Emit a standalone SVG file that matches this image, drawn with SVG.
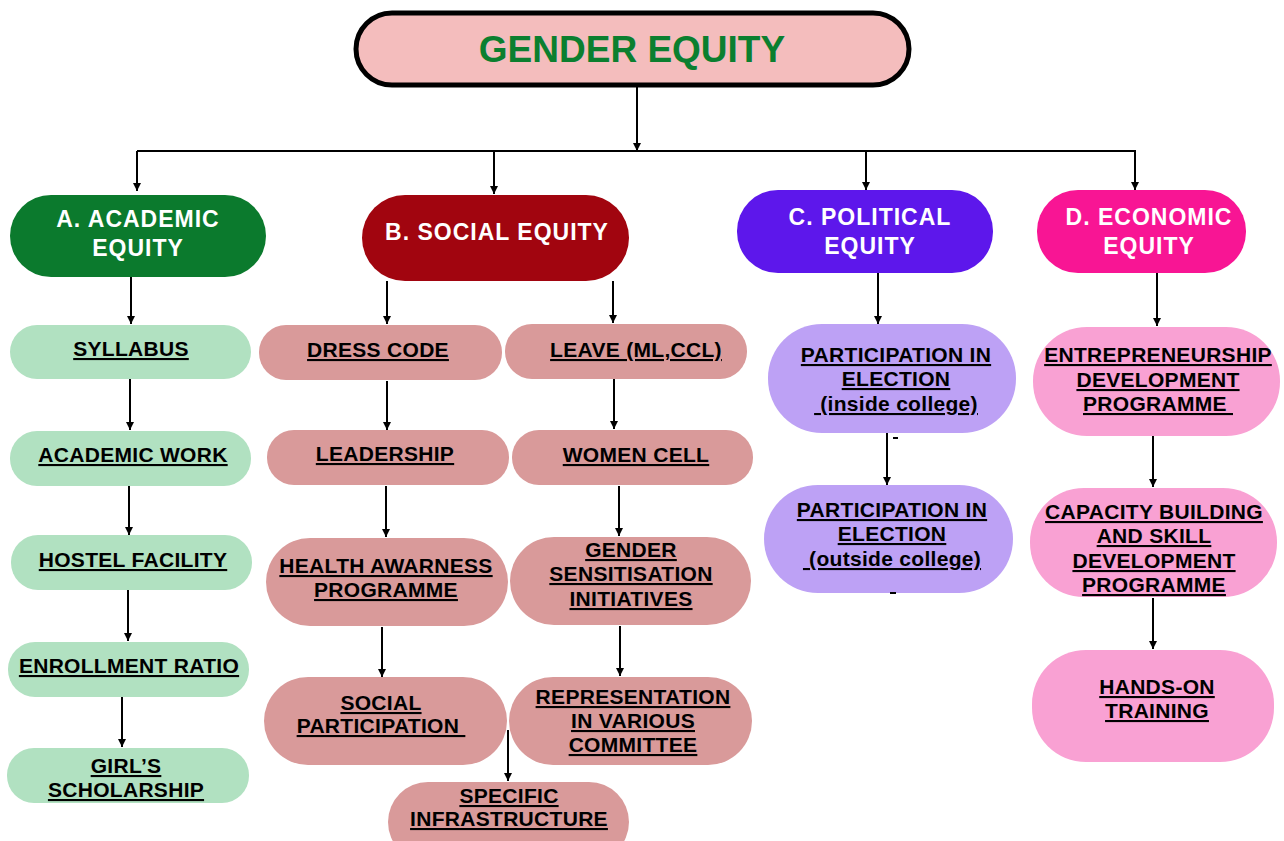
<svg xmlns="http://www.w3.org/2000/svg" width="1284" height="841" viewBox="0 0 1284 841">
<defs>
<marker id="ah" viewBox="0 0 10 10" refX="10" refY="5" markerWidth="8" markerHeight="8" markerUnits="userSpaceOnUse" orient="auto">
<path d="M0,0 L10,5 L0,10 Z" fill="#000"/>
</marker>
</defs>
<style>
.hd{font-family:"Liberation Sans",Arial,sans-serif;font-weight:bold;font-size:23px;fill:#fff;text-anchor:middle;letter-spacing:1px}
.ch{font-family:"Liberation Sans",Arial,sans-serif;font-weight:bold;font-size:21px;fill:#000;text-anchor:middle;text-decoration:underline;letter-spacing:0.3px}
.ac{fill:#B1E1C1}
.so{fill:#D99A9A}
.po{fill:#BDA1F5}
.ec{fill:#F9A1D3}
.cn line{stroke:#000;stroke-width:2}
</style>
<rect width="1284" height="841" fill="#fff"/>

<g id="connectors" class="cn">
<line x1="637" y1="86" x2="637" y2="151" marker-end="url(#ah)"/>
<line x1="137" y1="151" x2="1136" y2="151"/>
<line x1="137" y1="151" x2="137" y2="191" marker-end="url(#ah)"/>
<line x1="494" y1="151" x2="494" y2="194" marker-end="url(#ah)"/>
<line x1="866" y1="151" x2="866" y2="190" marker-end="url(#ah)"/>
<line x1="1135" y1="151" x2="1135" y2="190" marker-end="url(#ah)"/>
<line x1="131" y1="277" x2="131" y2="324" marker-end="url(#ah)"/>
<line x1="130" y1="379" x2="130" y2="430" marker-end="url(#ah)"/>
<line x1="129" y1="486" x2="129" y2="535" marker-end="url(#ah)"/>
<line x1="128" y1="590" x2="128" y2="641" marker-end="url(#ah)"/>
<line x1="122" y1="697" x2="122" y2="747" marker-end="url(#ah)"/>
<line x1="387" y1="281" x2="387" y2="324" marker-end="url(#ah)"/>
<line x1="613" y1="281" x2="613" y2="323" marker-end="url(#ah)"/>
<line x1="387" y1="381" x2="387" y2="430" marker-end="url(#ah)"/>
<line x1="386" y1="486" x2="386" y2="537" marker-end="url(#ah)"/>
<line x1="382" y1="627" x2="382" y2="677" marker-end="url(#ah)"/>
<line x1="614" y1="379" x2="614" y2="429" marker-end="url(#ah)"/>
<line x1="619" y1="486" x2="619" y2="536" marker-end="url(#ah)"/>
<line x1="620" y1="626" x2="620" y2="676" marker-end="url(#ah)"/>
<line x1="508" y1="730" x2="508" y2="781" marker-end="url(#ah)"/>
<line x1="878" y1="273" x2="878" y2="324" marker-end="url(#ah)"/>
<line x1="887" y1="433" x2="887" y2="485" marker-end="url(#ah)"/>
<line x1="1157" y1="273" x2="1157" y2="326" marker-end="url(#ah)"/>
<line x1="1153" y1="436" x2="1153" y2="487" marker-end="url(#ah)"/>
<line x1="1153" y1="598" x2="1153" y2="649" marker-end="url(#ah)"/>
</g>

<g id="title">
<rect x="356" y="13" width="553" height="72" rx="36" fill="#F4BDBD" stroke="#000" stroke-width="5"/>
<text x="632" y="62" font-family="Liberation Sans,Arial,sans-serif" font-weight="bold" font-size="37" fill="#0B7F2F" text-anchor="middle">GENDER EQUITY</text>
</g>

<g id="academic">
<rect x="10" y="195" width="256" height="82" rx="41" fill="#0B7A2D"/>
<text class="hd" x="138" y="227">A. ACADEMIC</text>
<text class="hd" x="138" y="256">EQUITY</text>
</g>
<g id="social">
<rect x="362" y="195" width="267" height="86" rx="43" fill="#A1050F"/>
<text class="hd" x="497" y="240">B. SOCIAL EQUITY</text>
</g>
<g id="political">
<rect x="737" y="190" width="256" height="83" rx="41" fill="#5D17EB"/>
<text class="hd" x="870" y="225">C. POLITICAL</text>
<text class="hd" x="870" y="254">EQUITY</text>
</g>
<g id="economic">
<rect x="1037" y="190" width="209" height="83" rx="41" fill="#F81594"/>
<text class="hd" x="1149" y="225">D. ECONOMIC</text>
<text class="hd" x="1149" y="254">EQUITY</text>
</g>

<g id="syllabus">
<rect class="ac" x="10" y="325" width="241" height="54" rx="27"/>
<text class="ch" x="131" y="356">SYLLABUS</text>
</g>
<g id="academic-work">
<rect class="ac" x="10" y="431" width="241" height="55" rx="27"/>
<text class="ch" x="133" y="462">ACADEMIC WORK</text>
</g>
<g id="hostel">
<rect class="ac" x="11" y="535" width="241" height="55" rx="27"/>
<text class="ch" x="133" y="567">HOSTEL FACILITY</text>
</g>
<g id="enrollment">
<rect class="ac" x="8" y="642" width="241" height="55" rx="27"/>
<text class="ch" x="129" y="673">ENROLLMENT RATIO</text>
</g>
<g id="scholarship">
<rect class="ac" x="7" y="748" width="242" height="55" rx="27"/>
<text class="ch" x="126" y="773">GIRL’S</text>
<text class="ch" x="126" y="797">SCHOLARSHIP</text>
</g>

<g id="dress-code">
<rect class="so" x="259" y="325" width="243" height="55" rx="27"/>
<text class="ch" x="378" y="357">DRESS CODE</text>
</g>
<g id="leadership">
<rect class="so" x="267" y="430" width="242" height="55" rx="27"/>
<text class="ch" x="385" y="461">LEADERSHIP</text>
</g>
<g id="health">
<rect class="so" x="266" y="538" width="242" height="88" rx="44"/>
<text class="ch" x="386" y="573">HEALTH AWARNESS</text>
<text class="ch" x="386" y="597">PROGRAMME</text>
</g>
<g id="social-participation">
<rect class="so" x="264" y="677" width="243" height="88" rx="44"/>
<text class="ch" x="381" y="710">SOCIAL</text>
<text class="ch" x="381" y="733">PARTICIPATION&#160;</text>
</g>
<g id="leave">
<rect class="so" x="505" y="324" width="242" height="55" rx="27"/>
<text class="ch" x="636" y="357">LEAVE (ML,CCL)</text>
</g>
<g id="women-cell">
<rect class="so" x="512" y="430" width="241" height="55" rx="27"/>
<text class="ch" x="636" y="462">WOMEN CELL</text>
</g>
<g id="gender-sensitisation">
<rect class="so" x="510" y="537" width="241" height="88" rx="44"/>
<text class="ch" x="631" y="557">GENDER</text>
<text class="ch" x="631" y="581">SENSITISATION</text>
<text class="ch" x="631" y="606">INITIATIVES</text>
</g>
<g id="representation">
<rect class="so" x="509" y="677" width="243" height="88" rx="44"/>
<text class="ch" x="633" y="704">REPRESENTATION</text>
<text class="ch" x="633" y="728">IN VARIOUS</text>
<text class="ch" x="633" y="752">COMMITTEE</text>
</g>
<g id="specific-infrastructure">
<rect class="so" x="388" y="782" width="241" height="80" rx="40"/>
<text class="ch" x="509" y="803">SPECIFIC</text>
<text class="ch" x="509" y="826">INFRASTRUCTURE</text>
</g>

<g id="election-inside">
<rect class="po" x="768" y="324" width="248" height="109" rx="54"/>
<text class="ch" x="896" y="362">PARTICIPATION IN</text>
<text class="ch" x="896" y="386">ELECTION</text>
<text class="ch" x="896" y="411">&#160;(inside college)</text>
<rect x="893" y="437" width="5" height="2" fill="#000"/>
</g>
<g id="election-outside">
<rect class="po" x="764" y="485" width="249" height="108" rx="54"/>
<text class="ch" x="892" y="517">PARTICIPATION IN</text>
<text class="ch" x="892" y="541">ELECTION</text>
<text class="ch" x="892" y="566">&#160;(outside college)</text>
<rect x="890" y="592" width="6" height="2" fill="#000"/>
</g>

<g id="entrepreneurship">
<rect class="ec" x="1033" y="327" width="247" height="109" rx="54"/>
<text class="ch" x="1158" y="362">ENTREPRENEURSHIP</text>
<text class="ch" x="1158" y="387">DEVELOPMENT</text>
<text class="ch" x="1158" y="411">PROGRAMME&#160;</text>
</g>
<g id="capacity-building">
<rect class="ec" x="1030" y="488" width="247" height="109" rx="54"/>
<text class="ch" x="1154" y="519">CAPACITY BUILDING</text>
<text class="ch" x="1154" y="543">AND SKILL</text>
<text class="ch" x="1154" y="568">DEVELOPMENT</text>
<text class="ch" x="1154" y="592">PROGRAMME</text>
</g>
<g id="hands-on">
<rect class="ec" x="1032" y="650" width="242" height="112" rx="54"/>
<text class="ch" x="1157" y="694">HANDS-ON</text>
<text class="ch" x="1157" y="718">TRAINING</text>
</g>
</svg>
